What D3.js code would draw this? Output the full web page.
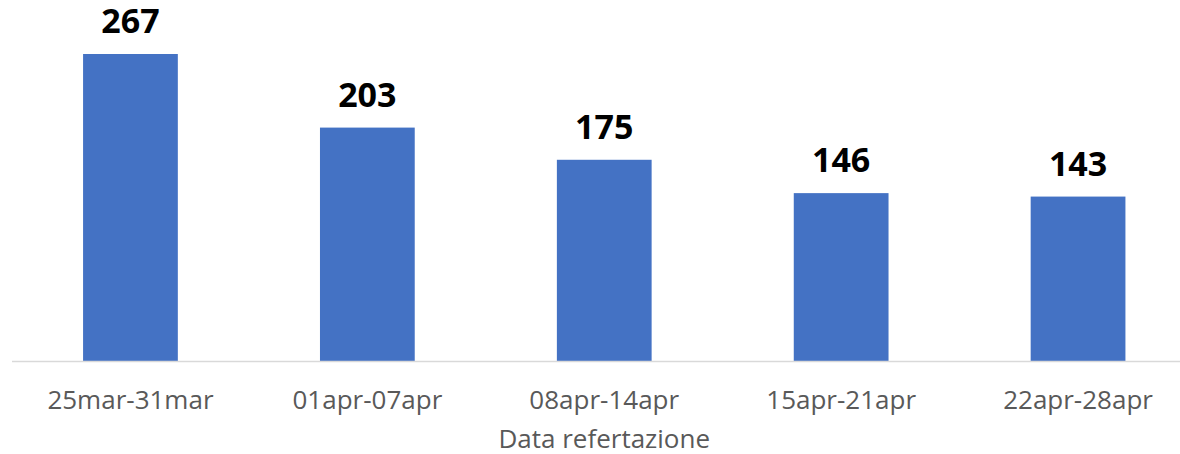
<!DOCTYPE html>
<html><head><meta charset="utf-8">
<script src="https://cdn.jsdelivr.net/npm/d3@7"></script>
<style>html,body{margin:0;padding:0;background:#fff;}svg{display:block;}</style>
</head><body>
<script>
const categories = ["25mar-31mar","01apr-07apr","08apr-14apr","15apr-21apr","22apr-28apr"];
const values = [267, 203, 175, 146, 143];
const axisTitle = "Data refertazione";

const W = 1180, H = 454;
const svg = d3.select("body").append("svg").attr("width", W).attr("height", H);

const x = d3.scaleBand().domain(categories).range([12, 1196.5]).paddingInner(0.6).paddingOuter(0.3);
const y = d3.scaleLinear().domain([0, 267]).range([361, 54]);

svg.selectAll("rect.bar").data(values).join("rect")
  .attr("class","bar")
  .attr("x",(d,i)=>x(categories[i]))
  .attr("y",d=>y(d))
  .attr("width",x.bandwidth())
  .attr("height",d=>y(0)-y(d))
  .attr("fill","#4472c4");

const axis = svg.append("g").attr("transform",`translate(0,${y(0)})`)
  .call(d3.axisBottom(x).tickSize(0).tickPadding(0));
axis.select(".domain").attr("d",`M12,0.5H${W}`).attr("stroke","#d9d9d9").attr("stroke-width",1.5);
axis.selectAll(".tick text")
  .attr("dy",null).attr("y",48)
  .attr("font-family","'Open Sans', sans-serif").attr("font-size",26).attr("fill","#595959");

svg.selectAll("text.val").data(values).join("text")
  .attr("class","val")
  .attr("x",(d,i)=>x(categories[i])+x.bandwidth()/2)
  .attr("y",d=>y(d)-21)
  .attr("text-anchor","middle")
  .attr("font-family","'Open Sans', sans-serif").attr("font-weight","bold")
  .attr("font-size",34).attr("fill","#000")
  .text(d=>d);

svg.append("text").attr("x",(12+1196.5)/2).attr("y",448)
  .attr("text-anchor","middle")
  .attr("font-family","'Open Sans', sans-serif").attr("font-size",26).attr("fill","#595959")
  .text(axisTitle);
</script>
</body></html>
